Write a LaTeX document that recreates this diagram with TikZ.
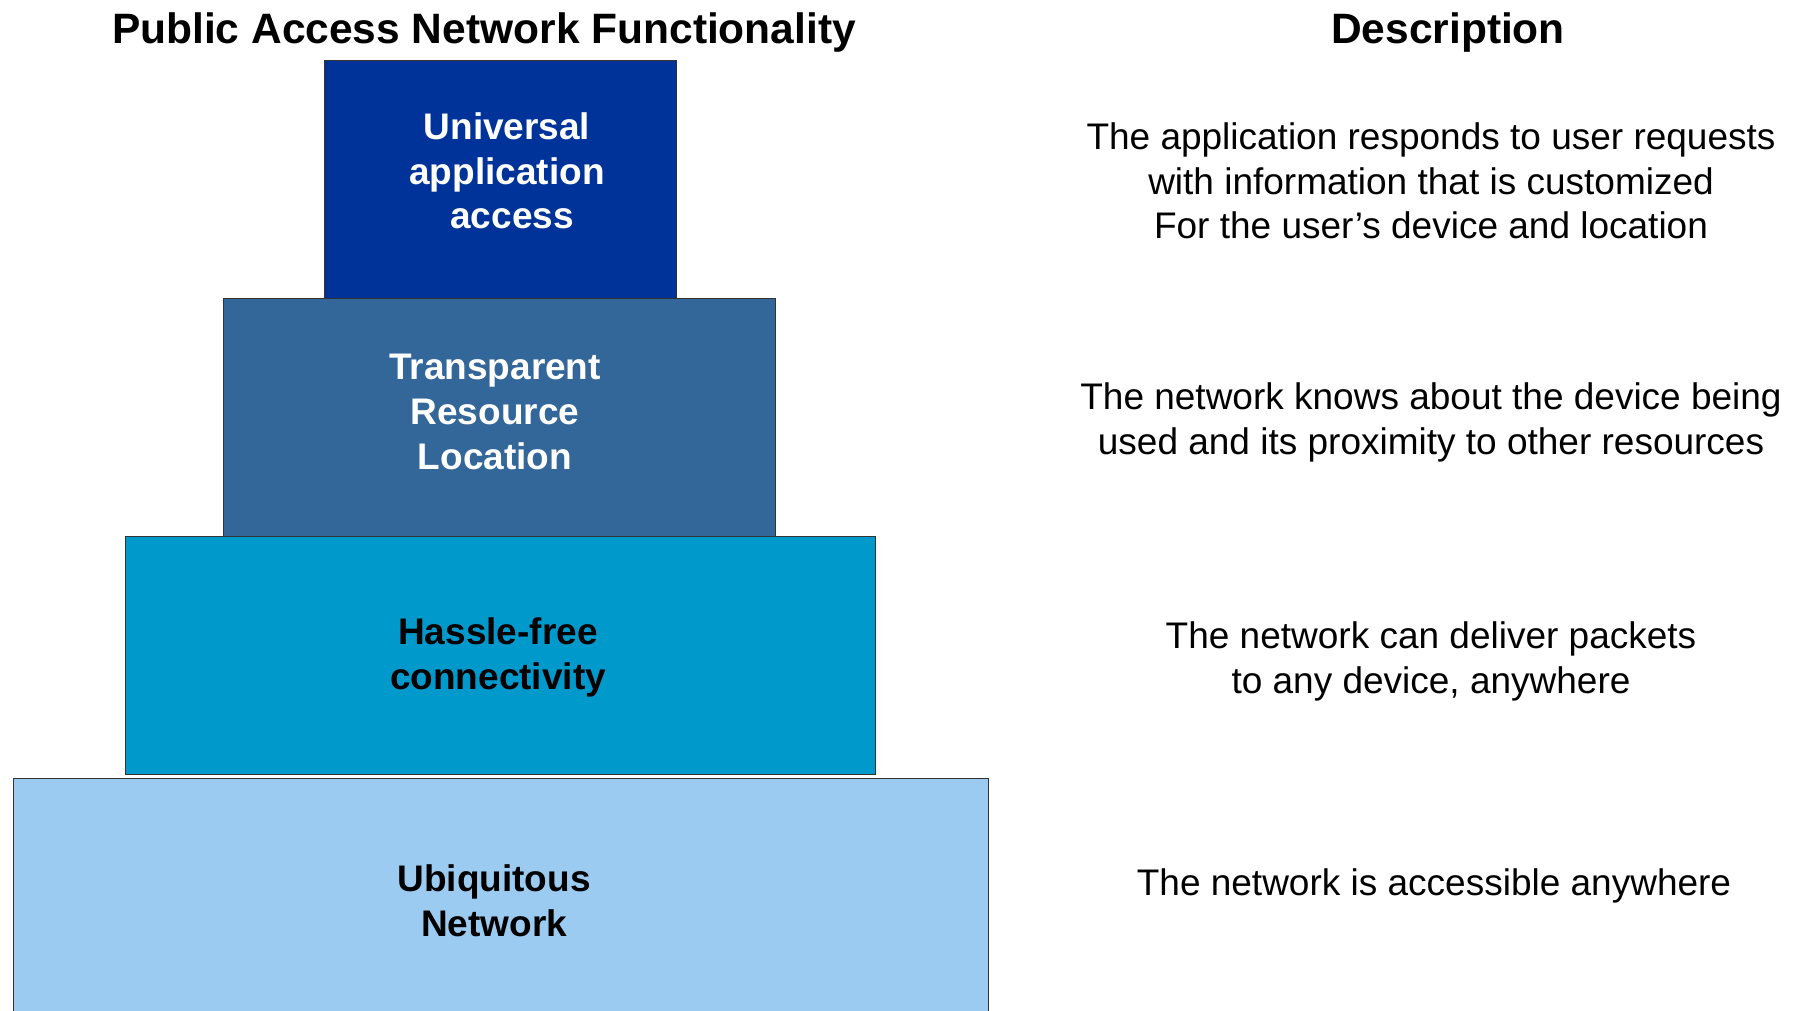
\documentclass[tikz,border=0pt]{standalone}
\usepackage{fontspec}
\setmainfont{Liberation Sans}
\definecolor{cA}{HTML}{003399}
\definecolor{cB}{HTML}{336699}
\definecolor{cC}{HTML}{0099CC}
\definecolor{cD}{HTML}{9CCBF2}
\begin{document}
\begin{tikzpicture}[x=1pt,y=-1pt,
  tier/.style={draw=black!80, line width=1pt, anchor=north west, inner sep=0pt},
  lbl/.style={align=center, font=\fontsize{37}{44.7}\selectfont\bfseries, inner sep=0pt},
  desc/.style={align=center, font=\fontsize{37}{44.7}\selectfont, inner sep=0pt},
  head/.style={font=\fontsize{42.5}{50}\selectfont\bfseries, inner sep=0pt}]
\useasboundingbox (0,0) rectangle (1796,1011);
\begin{scope}
\clip (0,0) rectangle (1796,1011);
\node[tier, fill=cD, minimum width=975pt, minimum height=260pt] (t4) at (13,778) {};
\end{scope}
\node[tier, fill=cC, minimum width=750pt, minimum height=238pt] (t3) at (125,536) {};
\node[tier, fill=cB, minimum width=552pt, minimum height=238pt] (t2) at (223,298) {};
\node[tier, fill=cA, minimum width=352pt, minimum height=238pt] (t1) at (324,60) {};

\node[head] (h1) at (484,32.5) {Public Access Network Functionality};
\node[head] (h2) at (1448,32.5) {Description};

\node[lbl, text=white] (l1) at (507,171) {Universal\\application\\\ access};
\node[lbl, text=white] (l2) at (495,412) {Transparent\\Resource\\Location};
\node[lbl, text=black] (l3) at (498,657.5) {Hassle-free\\connectivity};
\node[lbl, text=black] (l4) at (494,901) {Ubiquitous\\Network};

\node[desc] (d1) at (1431,181) {The application responds to user requests\\with information that is customized\\For the user’s device and location};
\node[desc] (d2) at (1431,422.5) {The network knows about the device being\\used and its proximity to other resources};
\node[desc] (d3) at (1431,661.5) {The network can deliver packets\\to any device, anywhere};
\node[desc] (d4) at (1434,885.5) {The network is accessible anywhere};
\end{tikzpicture}
\end{document}
